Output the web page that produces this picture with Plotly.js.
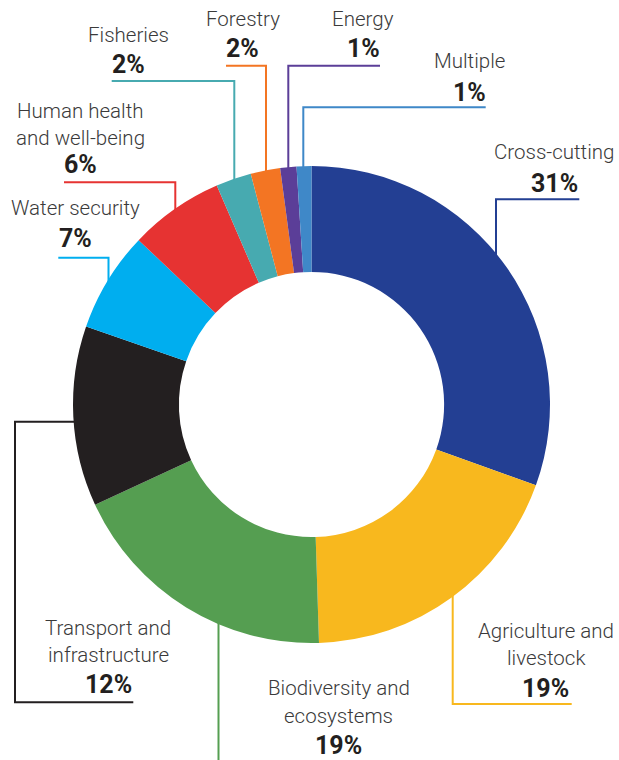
<!DOCTYPE html>
<html>
<head>
<meta charset="utf-8">
<script src="https://cdn.plot.ly/plotly-3.0.1.min.js"></script>
<style>
  html, body { margin: 0; padding: 0; background: #ffffff; }
  #chart { width: 619px; height: 760px; }
</style>
</head>
<body>
<div id="chart"></div>
<script>
// ---- data ----
const categories = ['Cross-cutting', 'Agriculture and livestock', 'Biodiversity and ecosystems',
  'Transport and infrastructure', 'Water security', 'Human health and well-being',
  'Fisheries', 'Forestry', 'Energy', 'Multiple'];
const displayLines = [['Cross-cutting'], ['Agriculture and', 'livestock'], ['Biodiversity and', 'ecosystems'],
  ['Transport and', 'infrastructure'], ['Water security'], ['Human health', 'and well-being'],
  ['Fisheries'], ['Forestry'], ['Energy'], ['Multiple']];
const shares = [30.5, 19.0, 18.6, 12.2, 6.8, 6.4, 2.4, 2.0, 1.1, 1.0];
const pctLabels = ['31%', '19%', '19%', '12%', '7%', '6%', '2%', '2%', '1%', '1%'];
const colors = ['#233f93', '#f8b81e', '#559e51', '#231f20', '#00aeef', '#e63332',
  '#47aab0', '#f37523', '#5b3e98', '#3f88c8'];

// ---- layout helpers (pixel -> paper) ----
const W = 619, H = 760;
const px = x => x / W;
const py = y => 1 - y / H;

// label placement (pixel centres of each text line, and the percentage line)
const labelPos = [
  {x: 554, lines: [152], pct: 184},
  {x: 545.5, lines: [630.5, 657.5], pct: 688},
  {x: 338.7, lines: [687.5, 715.5], pct: 745.5},
  {x: 108, lines: [628, 654.5], pct: 684.5},
  {x: 75.5, lines: [207.5], pct: 239},
  {x: 80, lines: [111, 137.5], pct: 165},
  {x: 128.5, lines: [34.7], pct: 65},
  {x: 242.5, lines: [19.2], pct: 48.5},
  {x: 363, lines: [18.8], pct: 48.8},
  {x: 469, lines: [60.8], pct: 92.5}
];
// leader line paths (pixel)
const leaderPaths = [
  [[579.3, 199.3], [496, 199.3], [496, 262]],
  [[452.7, 590], [452.7, 704], [571.7, 704]],
  [[218.5, 615], [218.5, 762]],
  [[133.3, 702.3], [15, 702.3], [15, 421.7], [80, 421.7]],
  [[58.3, 257.7], [108.5, 257.7], [108.5, 296]],
  [[64, 182.3], [175.3, 182.3], [175.3, 222]],
  [[111.7, 81], [234.3, 81], [234.3, 185]],
  [[226, 65.7], [266, 65.7], [266, 176]],
  [[380, 65.7], [288.3, 65.7], [288.3, 174]],
  [[485.7, 107.3], [303.3, 107.3], [303.3, 174]]
];

const annotations = [];
labelPos.forEach((p, i) => {
  displayLines[i].forEach((t, j) => {
    annotations.push({
      xref: 'paper', yref: 'paper', x: px(p.x), y: py(p.lines[j]),
      xanchor: 'center', yanchor: 'middle', showarrow: false, text: t,
      font: {family: 'Roboto', size: 20.5, color: '#3a3a3a', weight: 300}
    });
  });
  annotations.push({
    xref: 'paper', yref: 'paper', x: px(p.x), y: py(p.pct),
    xanchor: 'center', yanchor: 'middle', showarrow: false, text: pctLabels[i],
    font: {family: 'Roboto', size: 25, color: '#231f20', weight: 700}
  });
});

const shapes = leaderPaths.map((pts, i) => ({
  type: 'path', xref: 'paper', yref: 'paper', layer: 'below',
  path: pts.map((q, k) => (k ? 'L' : 'M') + px(q[0]) + ',' + py(q[1])).join(' '),
  line: {color: colors[i], width: 2}
}));

const cx = 311.5, cy = 404.5, R = 238.5;
const trace = {
  type: 'pie',
  labels: categories,
  values: shares,
  sort: false,
  direction: 'clockwise',
  rotation: 0,
  hole: 0.556,
  textinfo: 'none',
  hoverinfo: 'label+percent',
  marker: {colors: colors, line: {width: 0}},
  domain: {x: [px(cx - R), px(cx + R)], y: [py(cy + R), py(cy - R)]},
  showlegend: false
};

const layout = {
  width: W, height: H,
  margin: {l: 0, r: 0, t: 0, b: 0},
  paper_bgcolor: '#ffffff',
  showlegend: false,
  annotations: annotations,
  shapes: shapes
};

Plotly.newPlot('chart', [trace], layout, {displayModeBar: false, staticPlot: true});
</script>
</body>
</html>
